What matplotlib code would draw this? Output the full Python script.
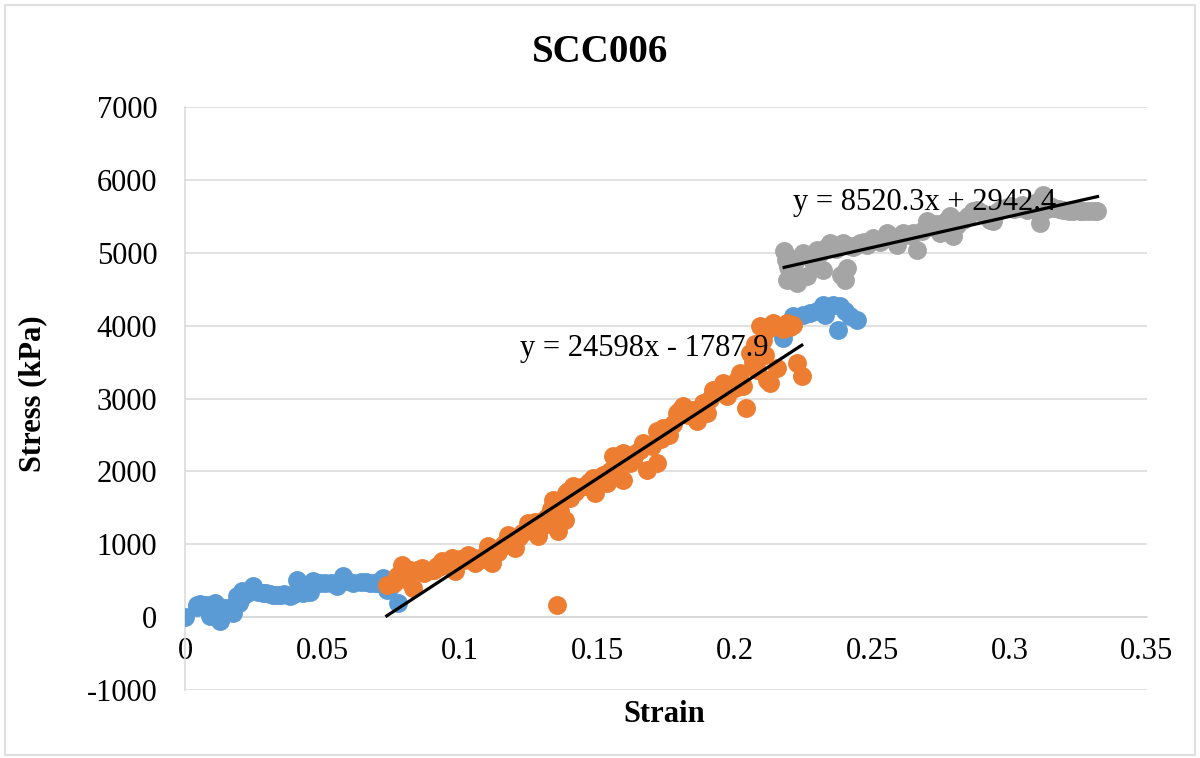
import numpy as np
import matplotlib.pyplot as plt
from matplotlib.patches import Rectangle

plt.rcParams['font.family'] = ['Liberation Serif', 'DejaVu Serif']
plt.rcParams['axes.unicode_minus'] = False

# series 1 (blue)
strain1 = [0.0000, 0.0043, 0.0055, 0.0067, 0.0080, 0.0090, 0.0100, 0.0109, 0.0118, 0.0127,
           0.0140, 0.0155, 0.0176, 0.0188, 0.0200, 0.0206, 0.0225, 0.0249, 0.0265, 0.0285,
           0.0310, 0.0334, 0.0360, 0.0382, 0.0406, 0.0418, 0.0430, 0.0445, 0.0467, 0.0490,
           0.0509, 0.0552, 0.0576, 0.0612, 0.0640, 0.0673, 0.0700, 0.0721, 0.0734, 0.0776,
           0.0045, 0.0075, 0.0105, 0.0135, 0.0165, 0.0195, 0.0215, 0.0240, 0.0295, 0.0320,
           0.0350, 0.0395, 0.0455, 0.0530, 0.0590, 0.0660, 0.0690, 0.0710, 0.0745,
           0.2177, 0.2213, 0.2249, 0.2275, 0.2298, 0.2322, 0.2328, 0.2359, 0.2377, 0.2383,
           0.2400, 0.2419, 0.2444]
stress1 = [0, 172, 185, 148, 120, 11, 160, 199, 100, -58,
           130, 120, 57, 285, 240, 354, 330, 423, 340, 332,
           320, 309, 315, 285, 514, 380, 332, 430, 491, 470,
           469, 423, 560, 469, 480, 469, 475, 538, 377, 195,
           140, 170, 80, 40, 100, 200, 300, 360, 330, 310,
           300, 320, 340, 470, 500, 480, 470, 500, 420,
           3830, 4127, 4150, 4180, 4196, 4288, 4150, 4288, 3945, 4265,
           4200, 4127, 4082]

# series 2 (orange)
strain2 = [0.0734, 0.0760, 0.0788, 0.0800, 0.0812, 0.0830, 0.0845, 0.0861, 0.0880, 0.0897,
           0.0915, 0.0934, 0.0950, 0.0970, 0.0982, 0.1000, 0.1031, 0.1055, 0.1080, 0.1104,
           0.1116, 0.1140, 0.1160, 0.1176, 0.1201, 0.1225, 0.1249, 0.1265, 0.1285, 0.1300,
           0.1322, 0.1340, 0.1352, 0.1358, 0.1370, 0.1382, 0.1387, 0.1395, 0.1411, 0.1440,
           0.1470, 0.1486, 0.1492, 0.1534, 0.1545, 0.1558, 0.1575, 0.1595, 0.1595, 0.1619,
           0.1640, 0.1667, 0.1680, 0.1716, 0.1716, 0.1740, 0.1760, 0.1789, 0.1801, 0.1813,
           0.1849, 0.1862, 0.1886, 0.1900, 0.1922, 0.1958, 0.1971, 0.2000, 0.2019, 0.2031,
           0.2040, 0.2056, 0.2080, 0.2092, 0.2104, 0.2116, 0.2128, 0.2140, 0.2153, 0.2165,
           0.2189, 0.2213, 0.2226, 0.2244,
           0.0770, 0.0820, 0.0870, 0.0905, 0.0925, 0.0960, 0.0990, 0.1015, 0.1045, 0.1065,
           0.1090, 0.1125, 0.1150, 0.1190, 0.1215, 0.1240, 0.1275, 0.1310, 0.1330, 0.1345,
           0.1365, 0.1400, 0.1420, 0.1455, 0.1500, 0.1520, 0.1560, 0.1585, 0.1610, 0.1630,
           0.1655, 0.1700, 0.1730, 0.1775, 0.1830, 0.1875, 0.1910, 0.1940, 0.1985, 0.2010,
           0.2065, 0.2075, 0.2110, 0.2120, 0.2175, 0.2200]
stress2 = [446, 470, 720, 520, 606, 400, 640, 675, 630, 652,
           700, 766, 720, 812, 628, 800, 858, 744, 800, 971,
           744, 900, 1000, 1132, 949, 1150, 1292, 1200, 1109, 1250,
           1383, 1612, 172, 1177, 1612, 1338, 1704, 1726, 1795, 1780,
           1850, 1910, 1704, 1841, 2000, 2206, 2100, 2253, 1887, 2115,
           2250, 2390, 2024, 2115, 2549, 2596, 2500, 2802, 2847, 2892,
           2847, 2686, 2939, 2800, 3121, 3213, 3029, 3150, 3350, 3167,
           2870, 3625, 3396, 3990, 3807, 3260, 3213, 4036, 3419, 3990,
           4036, 4013, 3487, 3304,
           560, 650, 610, 640, 690, 760, 740, 780, 820, 780,
           850, 880, 960, 1050, 1100, 1180, 1300, 1350, 1480, 1250,
           1450, 1640, 1720, 1800, 1880, 1950, 2050, 2150, 2200, 2150,
           2300, 2350, 2450, 2650, 2780, 2850, 3000, 3100, 3150, 3250,
           3500, 3750, 3600, 3950, 3950, 3980]

# series 3 (gray)
strain3 = [0.2180, 0.2185, 0.2189, 0.2189, 0.2205, 0.2226, 0.2250, 0.2262, 0.2280, 0.2298,
           0.2322, 0.2347, 0.2370, 0.2395, 0.2401, 0.2407, 0.2430, 0.2456, 0.2480, 0.2504,
           0.2530, 0.2553, 0.2570, 0.2589, 0.2613, 0.2640, 0.2662, 0.2680, 0.2698, 0.2720,
           0.2747, 0.2771, 0.2783, 0.2795, 0.2830, 0.2868, 0.2880, 0.2929, 0.2940, 0.2970,
           0.3001, 0.3030, 0.3062, 0.3110, 0.3123, 0.3135, 0.3147, 0.3195, 0.3230, 0.3256,
           0.3268, 0.3305, 0.3320,
           0.2195, 0.2215, 0.2240, 0.2270, 0.2310, 0.2335, 0.2360, 0.2385, 0.2420, 0.2445,
           0.2470, 0.2520, 0.2600, 0.2625, 0.2650, 0.2710, 0.2735, 0.2760, 0.2810, 0.2850,
           0.2900, 0.2955, 0.2985, 0.3015, 0.3045, 0.3080, 0.3100, 0.3160, 0.3180, 0.3215,
           0.3240, 0.3285]
stress3 = [5020, 4900, 4950, 4630, 4700, 4585, 4996, 4676, 4900, 5042,
           4768, 5134, 5050, 5134, 4630, 4791, 5080, 5134, 5100, 5203,
           5150, 5271, 5200, 5111, 5271, 5250, 5042, 5300, 5431, 5400,
           5271, 5454, 5499, 5225, 5450, 5568, 5591, 5454, 5431, 5600,
           5636, 5620, 5591, 5408, 5797, 5600, 5636, 5591, 5580, 5568,
           5568, 5568, 5570,
           4800, 4850, 4650, 4950, 5000, 5080, 5100, 4700, 5090, 5100,
           5150, 5180, 5230, 5250, 5270, 5350, 5400, 5350, 5380, 5500,
           5550, 5560, 5620, 5600, 5650, 5600, 5700, 5620, 5600, 5570,
           5590, 5570]

# trendline coefficients shown on the chart
fit2 = (24598, -1787.9)
fit3 = (8520.3, 2942.4)
label2 = "y = 24598x - 1787.9"
label3 = "y = 8520.3x + 2942.4"

blue = '#5B9BD5'
orange = '#ED7D31'
gray = '#A5A5A5'
grid = '#D9D9D9'

fig = plt.figure(figsize=(12, 7.58), dpi=100)
ax = fig.add_axes([0.1542, 0.0897, 0.8016, 0.7691])

ax.scatter(strain1, stress1, s=185, color=blue, linewidths=0, zorder=3)
ax.scatter(strain2, stress2, s=185, color=orange, linewidths=0, zorder=3)
ax.scatter(strain3, stress3, s=185, color=gray, linewidths=0, zorder=3)

for xs, (m, b) in [(strain2, fit2), (strain3, fit3)]:
    xx = np.array([min(xs), max(xs)])
    ax.plot(xx, m * xx + b, color='black', lw=2.3, zorder=4)

ax.text(0.1219, 3690, label2, fontsize=22, va='center', ha='left', zorder=5)
ax.text(0.2213, 5690, label3, fontsize=22, va='center', ha='left', zorder=5)

ax.set_xlim(0, 0.35)
ax.set_ylim(-1000, 7000)
ax.set_xticks(np.arange(0, 0.351, 0.05))
ax.set_xticklabels(['0', '0.05', '0.1', '0.15', '0.2', '0.25', '0.3', '0.35'])
ax.set_yticks(range(-1000, 7001, 1000))
ax.yaxis.grid(True, color=grid, lw=1.1, zorder=0)
ax.set_axisbelow(True)

for s in ['top', 'right']:
    ax.spines[s].set_visible(False)
ax.spines['bottom'].set_position(('data', 0))
ax.spines['bottom'].set_color(grid)
ax.spines['bottom'].set_linewidth(1.1)
ax.spines['left'].set_color(grid)
ax.spines['left'].set_linewidth(1.1)
ax.tick_params(axis='x', length=0, pad=14, labelsize=22)
ax.tick_params(axis='y', length=0, pad=20, labelsize=22)

fig.text(0.5, 0.931, 'SCC006', fontsize=28, fontweight='bold', ha='center', va='center')
fig.text(0.5533, 0.058, 'Strain', fontsize=22, fontweight='bold', ha='center', va='center')
fig.text(0.027, 0.48, 'Stress (kPa)', fontsize=22, fontweight='bold', ha='center', va='center', rotation=90)

fig.patches.append(Rectangle((0.004, 0.004), 0.992, 0.99, transform=fig.transFigure,
                             fill=False, edgecolor=grid, lw=1.2))

plt.savefig('out.png')
